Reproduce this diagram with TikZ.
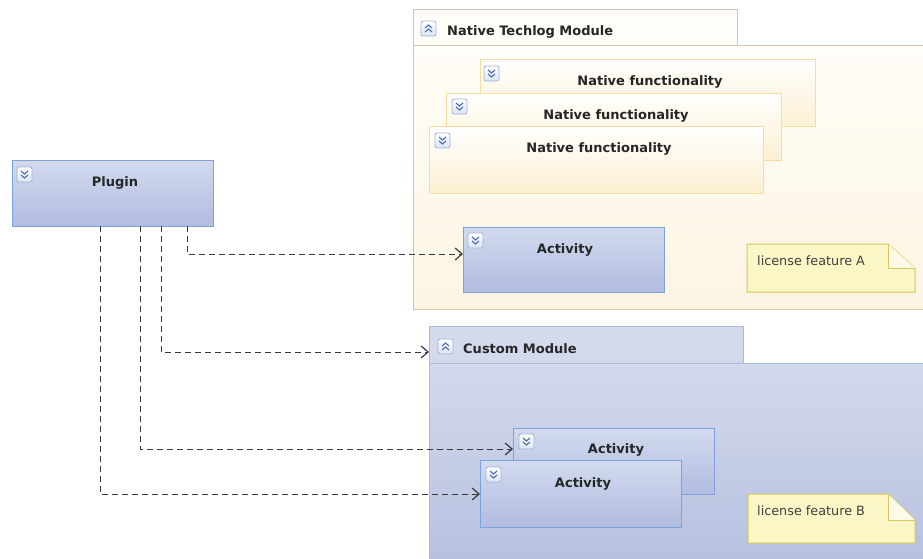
\documentclass[tikz,border=0pt]{standalone}
\usepackage{fontspec}
\setmainfont{DejaVu Sans}
\usetikzlibrary{arrows.meta,calc}
\definecolor{actTop}{HTML}{D3DAEF}
\definecolor{actBot}{HTML}{B1BDE0}
\definecolor{actBorder}{HTML}{7BA2DA}
\definecolor{nfBorder}{HTML}{F8DE9C}
\definecolor{nfBot}{HTML}{FDF0D2}
\definecolor{natBorder}{HTML}{D9C3B2}
\definecolor{natTop}{HTML}{FFFDF8}
\definecolor{natBot}{HTML}{FDF5E2}
\definecolor{cusTop}{HTML}{D4D9EC}
\definecolor{cusBot}{HTML}{B6C0DF}
\definecolor{cusBorder}{HTML}{AABADF}
\definecolor{noteFill}{HTML}{FAF6C6}
\definecolor{noteBorder}{HTML}{D6C85A}
\definecolor{iconBorder}{HTML}{9FB3D8}
\definecolor{iconBot}{HTML}{DCE4F4}
\definecolor{chevCol}{HTML}{4A6CB0}
\definecolor{connCol}{HTML}{3A3A3A}
\tikzset{
  boxnode/.style={rectangle, draw=actBorder, line width=1pt, top color=actTop, bottom color=actBot, inner sep=0pt, outer sep=0pt, anchor=north west},
  nfnode/.style={boxnode, draw=nfBorder, top color=white, bottom color=nfBot},
  natnode/.style={boxnode, draw=natBorder, top color=natTop, bottom color=natBot},
  custnode/.style={boxnode, draw=cusBorder, top color=cusTop, bottom color=cusBot},
  titletext/.style={font=\fontsize{13}{15}\selectfont\bfseries, text=black!85, inner sep=0pt, anchor=base},
  notetext/.style={font=\fontsize{12.8}{15}\selectfont, text=black!75, inner sep=0pt, anchor=base west},
  notepath/.style={draw=noteBorder, fill=noteFill, line width=1pt, line join=miter},
  conn/.style={draw=connCol, line width=1pt, dash pattern=on 6pt off 4pt, -{Straight Barb[length=7pt,width=12pt,line width=1.2pt]}},
  chevline/.style={draw=chevCol, line width=1.1pt},
  pics/chevdown/.style={code={
    \draw[draw=iconBorder, rounded corners=2pt, top color=white, bottom color=iconBot, line width=0.8pt] (0,0) rectangle (15,15);
    \draw[chevline] (4,4) -- (7.5,7) -- (11,4);
    \draw[chevline] (4,8) -- (7.5,11) -- (11,8);
  }},
  pics/chevup/.style={code={
    \draw[draw=iconBorder, rounded corners=2pt, top color=white, bottom color=iconBot, line width=0.8pt] (0,0) rectangle (15,15);
    \draw[chevline] (4,7) -- (7.5,4) -- (11,7);
    \draw[chevline] (4,11) -- (7.5,8) -- (11,11);
  }}
}
\begin{document}
\begin{tikzpicture}[x=1pt,y=-1pt]
\useasboundingbox (0,0) rectangle (923,558);
\clip (0,0) rectangle (923,558);
\fill[white] (0,0) rectangle (923,558);

% Plugin
\node[boxnode, minimum width=201pt, minimum height=66pt] (plugin) at (12,160) {};
\pic at (17,167) {chevdown};
\node[titletext] (plugintxt) at (115,186) {Plugin};

% Native Techlog Module
\node[natnode, minimum width=520pt, minimum height=264pt] (natbody) at (413,45) {};
\node[rectangle, draw=natBorder, fill=natTop, line width=1pt, inner sep=0pt, outer sep=0pt, anchor=north west, minimum width=324pt, minimum height=36pt] (nattab) at (413,9) {};
\pic at (421,21) {chevup};
\node[titletext, anchor=base west] (nattxt) at (447,35) {Native Techlog Module};

\node[nfnode, minimum width=335pt, minimum height=67pt] (nf1) at (480,59) {};
\pic at (484,66) {chevdown};
\node[titletext] (nf1txt) at (650,85) {Native functionality};
\node[nfnode, minimum width=335pt, minimum height=67pt] (nf2) at (446,93) {};
\pic at (452,99) {chevdown};
\node[titletext] (nf2txt) at (616,119) {Native functionality};
\node[nfnode, minimum width=334pt, minimum height=67pt] (nf3) at (429,126) {};
\pic at (435,133) {chevdown};
\node[titletext] (nf3txt) at (599,152) {Native functionality};

\node[boxnode, minimum width=201pt, minimum height=65pt] (actA) at (463,227) {};
\pic at (468,233) {chevdown};
\node[titletext] (actAtxt) at (565,253) {Activity};

\draw[notepath] (747,244) -- (888,244) -- (915,268) -- (915,292) -- (747,292) -- cycle;
\draw[draw=noteBorder, line width=1pt, fill=white!60!noteFill] (888,244) -- (888,268) -- (915,268);
\node[notetext] (noteA) at (757,265) {license feature A};

% Custom Module
\node[custnode, minimum width=500pt, minimum height=200pt] (custbody) at (429,363) {};
\node[rectangle, draw=cusBorder, fill=cusTop, line width=1pt, inner sep=0pt, outer sep=0pt, anchor=north west, minimum width=314pt, minimum height=37pt] (custtab) at (429,326) {};
\pic at (438,339) {chevup};
\node[titletext, anchor=base west] (custtxt) at (463,353) {Custom Module};

\node[boxnode, minimum width=201pt, minimum height=66pt] (actB) at (513,428) {};
\pic at (519,434) {chevdown};
\node[titletext] (actBtxt) at (616,453) {Activity};
\node[boxnode, minimum width=201pt, minimum height=67pt] (actF) at (480,460) {};
\pic at (486,467) {chevdown};
\node[titletext] (actFtxt) at (583,487) {Activity};

\draw[notepath] (748,494) -- (888,494) -- (915,520) -- (915,543) -- (748,543) -- cycle;
\draw[draw=noteBorder, line width=1pt, fill=white!60!noteFill] (888,494) -- (888,520) -- (915,520);
\node[notetext] (noteB) at (757,515) {license feature B};

% connectors
\draw[conn] ([xshift=175pt]plugin.south west) |- ([yshift=5.5pt]actA.west);
\draw[conn] ([xshift=149pt]plugin.south west) |- ([yshift=-7.5pt]custtab.west);
\draw[conn] ([xshift=128pt]plugin.south west) |- ([yshift=12pt]actB.west);
\draw[conn] ([xshift=88pt]plugin.south west) |- ([yshift=-0.5pt]actF.west);
\end{tikzpicture}
\end{document}
